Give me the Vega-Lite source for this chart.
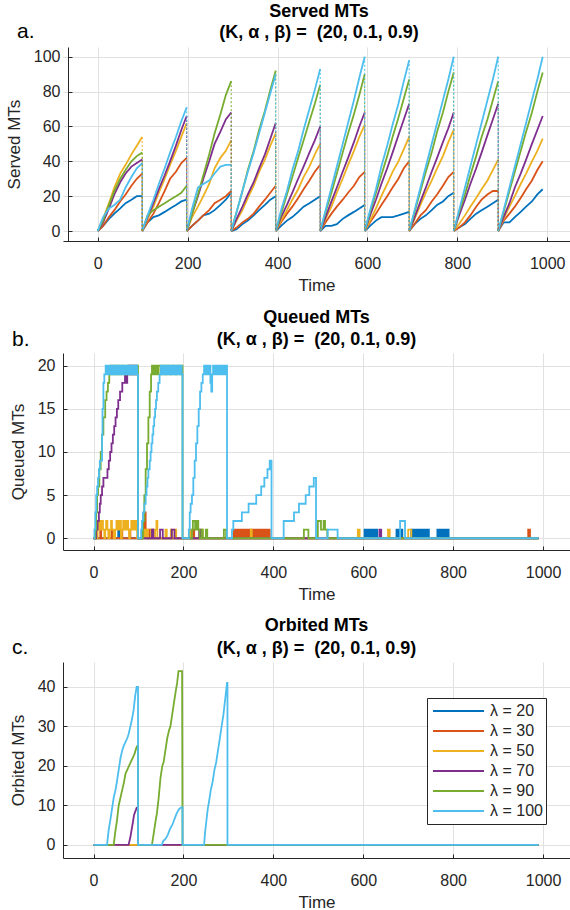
{
"$schema": "https://vega.github.io/schema/vega-lite/v6.json",
"autosize": "none",
"padding": {"left": 63, "top": 47, "right": 507, "bottom": 863},
"background": "white",
"config": {
 "font": "Liberation Sans",
 "view": {"stroke": null},
 "axis": {"domainColor": "#262626", "domainWidth": 1, "tickColor": "#262626", "tickSize": -4, "ticks": true, "labelFontSize": 16, "labelColor": "#262626", "labelFont": "Liberation Sans", "titleFont": "Liberation Sans", "titleFontSize": 17, "titleFontWeight": "normal", "titleColor": "#262626", "gridColor": "#e1e1e1", "grid": true, "labelFlush": false, "labelOverlap": false},
 "axisX": {"labelPadding": 18, "titlePadding": 6},
 "axisY": {"labelPadding": 12, "titlePadding": 10}
},
"datasets": {
"served": [
{"s":20,"g":1,"t":0,"v":0},{"s":20,"g":1,"t":12,"v":3},{"s":20,"g":1,"t":25,"v":7},{"s":20,"g":1,"t":37,"v":10},{"s":20,"g":1,"t":50,"v":13},{"s":20,"g":1,"t":62,"v":16},{"s":20,"g":1,"t":75,"v":18},{"s":20,"g":1,"t":87,"v":20},{"s":20,"g":1,"t":99,"v":20},
{"s":20,"g":2,"t":99,"v":0},{"s":20,"g":2,"t":111,"v":5},{"s":20,"g":2,"t":124,"v":8},{"s":20,"g":2,"t":136,"v":9},{"s":20,"g":2,"t":149,"v":11},{"s":20,"g":2,"t":161,"v":13},{"s":20,"g":2,"t":174,"v":15},{"s":20,"g":2,"t":186,"v":17},{"s":20,"g":2,"t":198,"v":18},
{"s":20,"g":3,"t":198,"v":0},{"s":20,"g":3,"t":210,"v":3},{"s":20,"g":3,"t":223,"v":6},{"s":20,"g":3,"t":235,"v":9},{"s":20,"g":3,"t":248,"v":10},{"s":20,"g":3,"t":260,"v":12},{"s":20,"g":3,"t":273,"v":15},{"s":20,"g":3,"t":285,"v":18},{"s":20,"g":3,"t":297,"v":22},
{"s":20,"g":4,"t":297,"v":0},{"s":20,"g":4,"t":309,"v":1},{"s":20,"g":4,"t":322,"v":4},{"s":20,"g":4,"t":334,"v":6},{"s":20,"g":4,"t":347,"v":9},{"s":20,"g":4,"t":359,"v":12},{"s":20,"g":4,"t":372,"v":15},{"s":20,"g":4,"t":384,"v":18},{"s":20,"g":4,"t":396,"v":20},
{"s":20,"g":5,"t":396,"v":0},{"s":20,"g":5,"t":408,"v":3},{"s":20,"g":5,"t":421,"v":6},{"s":20,"g":5,"t":433,"v":8},{"s":20,"g":5,"t":446,"v":11},{"s":20,"g":5,"t":458,"v":14},{"s":20,"g":5,"t":471,"v":16},{"s":20,"g":5,"t":483,"v":18},{"s":20,"g":5,"t":495,"v":20},
{"s":20,"g":6,"t":495,"v":0},{"s":20,"g":6,"t":507,"v":3},{"s":20,"g":6,"t":520,"v":3},{"s":20,"g":6,"t":532,"v":4},{"s":20,"g":6,"t":545,"v":7},{"s":20,"g":6,"t":557,"v":9},{"s":20,"g":6,"t":570,"v":11},{"s":20,"g":6,"t":582,"v":13},{"s":20,"g":6,"t":594,"v":15},
{"s":20,"g":7,"t":594,"v":0},{"s":20,"g":7,"t":606,"v":3},{"s":20,"g":7,"t":619,"v":6},{"s":20,"g":7,"t":631,"v":8},{"s":20,"g":7,"t":644,"v":8},{"s":20,"g":7,"t":656,"v":8},{"s":20,"g":7,"t":669,"v":9},{"s":20,"g":7,"t":681,"v":10},{"s":20,"g":7,"t":693,"v":11},
{"s":20,"g":8,"t":693,"v":0},{"s":20,"g":8,"t":705,"v":4},{"s":20,"g":8,"t":718,"v":7},{"s":20,"g":8,"t":730,"v":9},{"s":20,"g":8,"t":743,"v":12},{"s":20,"g":8,"t":755,"v":15},{"s":20,"g":8,"t":768,"v":17},{"s":20,"g":8,"t":780,"v":20},{"s":20,"g":8,"t":792,"v":22},
{"s":20,"g":9,"t":792,"v":0},{"s":20,"g":9,"t":804,"v":2},{"s":20,"g":9,"t":817,"v":4},{"s":20,"g":9,"t":829,"v":7},{"s":20,"g":9,"t":842,"v":10},{"s":20,"g":9,"t":854,"v":12},{"s":20,"g":9,"t":867,"v":14},{"s":20,"g":9,"t":879,"v":16},{"s":20,"g":9,"t":891,"v":18},
{"s":20,"g":10,"t":891,"v":0},{"s":20,"g":10,"t":903,"v":5},{"s":20,"g":10,"t":916,"v":5},{"s":20,"g":10,"t":928,"v":8},{"s":20,"g":10,"t":941,"v":11},{"s":20,"g":10,"t":953,"v":14},{"s":20,"g":10,"t":966,"v":17},{"s":20,"g":10,"t":978,"v":21},{"s":20,"g":10,"t":990,"v":24},
{"s":30,"g":1,"t":0,"v":0},{"s":30,"g":1,"t":12,"v":3},{"s":30,"g":1,"t":25,"v":8},{"s":30,"g":1,"t":37,"v":12},{"s":30,"g":1,"t":50,"v":17},{"s":30,"g":1,"t":62,"v":21},{"s":30,"g":1,"t":75,"v":26},{"s":30,"g":1,"t":87,"v":30},{"s":30,"g":1,"t":99,"v":33},
{"s":30,"g":2,"t":99,"v":0},{"s":30,"g":2,"t":111,"v":5},{"s":30,"g":2,"t":124,"v":10},{"s":30,"g":2,"t":136,"v":16},{"s":30,"g":2,"t":149,"v":23},{"s":30,"g":2,"t":161,"v":30},{"s":30,"g":2,"t":174,"v":34},{"s":30,"g":2,"t":186,"v":39},{"s":30,"g":2,"t":198,"v":42},
{"s":30,"g":3,"t":198,"v":0},{"s":30,"g":3,"t":210,"v":3},{"s":30,"g":3,"t":223,"v":6},{"s":30,"g":3,"t":235,"v":9},{"s":30,"g":3,"t":248,"v":12},{"s":30,"g":3,"t":260,"v":16},{"s":30,"g":3,"t":273,"v":18},{"s":30,"g":3,"t":285,"v":20},{"s":30,"g":3,"t":297,"v":23},
{"s":30,"g":4,"t":297,"v":0},{"s":30,"g":4,"t":309,"v":2},{"s":30,"g":4,"t":322,"v":5},{"s":30,"g":4,"t":334,"v":7},{"s":30,"g":4,"t":347,"v":10},{"s":30,"g":4,"t":359,"v":14},{"s":30,"g":4,"t":372,"v":18},{"s":30,"g":4,"t":384,"v":22},{"s":30,"g":4,"t":396,"v":26},
{"s":30,"g":5,"t":396,"v":0},{"s":30,"g":5,"t":408,"v":5},{"s":30,"g":5,"t":421,"v":10},{"s":30,"g":5,"t":433,"v":14},{"s":30,"g":5,"t":446,"v":19},{"s":30,"g":5,"t":458,"v":24},{"s":30,"g":5,"t":471,"v":29},{"s":30,"g":5,"t":483,"v":34},{"s":30,"g":5,"t":495,"v":38},
{"s":30,"g":6,"t":495,"v":0},{"s":30,"g":6,"t":507,"v":5},{"s":30,"g":6,"t":520,"v":10},{"s":30,"g":6,"t":532,"v":14},{"s":30,"g":6,"t":545,"v":18},{"s":30,"g":6,"t":557,"v":22},{"s":30,"g":6,"t":570,"v":26},{"s":30,"g":6,"t":582,"v":31},{"s":30,"g":6,"t":594,"v":34},
{"s":30,"g":7,"t":594,"v":0},{"s":30,"g":7,"t":606,"v":5},{"s":30,"g":7,"t":619,"v":10},{"s":30,"g":7,"t":631,"v":15},{"s":30,"g":7,"t":644,"v":20},{"s":30,"g":7,"t":656,"v":25},{"s":30,"g":7,"t":669,"v":30},{"s":30,"g":7,"t":681,"v":36},{"s":30,"g":7,"t":693,"v":40},
{"s":30,"g":8,"t":693,"v":0},{"s":30,"g":8,"t":705,"v":4},{"s":30,"g":8,"t":718,"v":9},{"s":30,"g":8,"t":730,"v":12},{"s":30,"g":8,"t":743,"v":17},{"s":30,"g":8,"t":755,"v":21},{"s":30,"g":8,"t":768,"v":26},{"s":30,"g":8,"t":780,"v":31},{"s":30,"g":8,"t":792,"v":34},
{"s":30,"g":9,"t":792,"v":0},{"s":30,"g":9,"t":804,"v":2},{"s":30,"g":9,"t":817,"v":5},{"s":30,"g":9,"t":829,"v":9},{"s":30,"g":9,"t":842,"v":14},{"s":30,"g":9,"t":854,"v":18},{"s":30,"g":9,"t":867,"v":21},{"s":30,"g":9,"t":879,"v":23},{"s":30,"g":9,"t":891,"v":23},
{"s":30,"g":10,"t":891,"v":0},{"s":30,"g":10,"t":903,"v":6},{"s":30,"g":10,"t":916,"v":10},{"s":30,"g":10,"t":928,"v":14},{"s":30,"g":10,"t":941,"v":19},{"s":30,"g":10,"t":953,"v":24},{"s":30,"g":10,"t":966,"v":29},{"s":30,"g":10,"t":978,"v":35},{"s":30,"g":10,"t":990,"v":40},
{"s":50,"g":1,"t":0,"v":0},{"s":50,"g":1,"t":12,"v":7},{"s":50,"g":1,"t":25,"v":16},{"s":50,"g":1,"t":37,"v":25},{"s":50,"g":1,"t":50,"v":33},{"s":50,"g":1,"t":62,"v":38},{"s":50,"g":1,"t":75,"v":44},{"s":50,"g":1,"t":87,"v":49},{"s":50,"g":1,"t":99,"v":54},
{"s":50,"g":2,"t":99,"v":0},{"s":50,"g":2,"t":111,"v":7},{"s":50,"g":2,"t":124,"v":14},{"s":50,"g":2,"t":136,"v":22},{"s":50,"g":2,"t":149,"v":30},{"s":50,"g":2,"t":161,"v":38},{"s":50,"g":2,"t":174,"v":46},{"s":50,"g":2,"t":186,"v":54},{"s":50,"g":2,"t":198,"v":62},
{"s":50,"g":3,"t":198,"v":0},{"s":50,"g":3,"t":210,"v":8},{"s":50,"g":3,"t":223,"v":14},{"s":50,"g":3,"t":235,"v":20},{"s":50,"g":3,"t":248,"v":27},{"s":50,"g":3,"t":260,"v":36},{"s":50,"g":3,"t":273,"v":42},{"s":50,"g":3,"t":285,"v":46},{"s":50,"g":3,"t":297,"v":52},
{"s":50,"g":4,"t":297,"v":0},{"s":50,"g":4,"t":309,"v":6},{"s":50,"g":4,"t":322,"v":12},{"s":50,"g":4,"t":334,"v":19},{"s":50,"g":4,"t":347,"v":26},{"s":50,"g":4,"t":359,"v":34},{"s":50,"g":4,"t":372,"v":41},{"s":50,"g":4,"t":384,"v":49},{"s":50,"g":4,"t":396,"v":56},
{"s":50,"g":5,"t":396,"v":0},{"s":50,"g":5,"t":408,"v":6},{"s":50,"g":5,"t":421,"v":12},{"s":50,"g":5,"t":433,"v":18},{"s":50,"g":5,"t":446,"v":24},{"s":50,"g":5,"t":458,"v":31},{"s":50,"g":5,"t":471,"v":37},{"s":50,"g":5,"t":483,"v":44},{"s":50,"g":5,"t":495,"v":50},
{"s":50,"g":6,"t":495,"v":0},{"s":50,"g":6,"t":507,"v":7},{"s":50,"g":6,"t":520,"v":14},{"s":50,"g":6,"t":532,"v":22},{"s":50,"g":6,"t":545,"v":30},{"s":50,"g":6,"t":557,"v":38},{"s":50,"g":6,"t":570,"v":46},{"s":50,"g":6,"t":582,"v":54},{"s":50,"g":6,"t":594,"v":61},
{"s":50,"g":7,"t":594,"v":0},{"s":50,"g":7,"t":606,"v":6},{"s":50,"g":7,"t":619,"v":13},{"s":50,"g":7,"t":631,"v":20},{"s":50,"g":7,"t":644,"v":27},{"s":50,"g":7,"t":656,"v":34},{"s":50,"g":7,"t":669,"v":40},{"s":50,"g":7,"t":681,"v":47},{"s":50,"g":7,"t":693,"v":54},
{"s":50,"g":8,"t":693,"v":0},{"s":50,"g":8,"t":705,"v":7},{"s":50,"g":8,"t":718,"v":15},{"s":50,"g":8,"t":730,"v":22},{"s":50,"g":8,"t":743,"v":29},{"s":50,"g":8,"t":755,"v":36},{"s":50,"g":8,"t":768,"v":43},{"s":50,"g":8,"t":780,"v":51},{"s":50,"g":8,"t":792,"v":58},
{"s":50,"g":9,"t":792,"v":0},{"s":50,"g":9,"t":804,"v":4},{"s":50,"g":9,"t":817,"v":9},{"s":50,"g":9,"t":829,"v":14},{"s":50,"g":9,"t":842,"v":19},{"s":50,"g":9,"t":854,"v":24},{"s":50,"g":9,"t":867,"v":29},{"s":50,"g":9,"t":879,"v":35},{"s":50,"g":9,"t":891,"v":41},
{"s":50,"g":10,"t":891,"v":0},{"s":50,"g":10,"t":903,"v":7},{"s":50,"g":10,"t":916,"v":14},{"s":50,"g":10,"t":928,"v":20},{"s":50,"g":10,"t":941,"v":27},{"s":50,"g":10,"t":953,"v":33},{"s":50,"g":10,"t":966,"v":40},{"s":50,"g":10,"t":978,"v":46},{"s":50,"g":10,"t":990,"v":53},
{"s":70,"g":1,"t":0,"v":0},{"s":70,"g":1,"t":12,"v":5},{"s":70,"g":1,"t":25,"v":13},{"s":70,"g":1,"t":37,"v":21},{"s":70,"g":1,"t":50,"v":28},{"s":70,"g":1,"t":62,"v":33},{"s":70,"g":1,"t":75,"v":37},{"s":70,"g":1,"t":87,"v":39},{"s":70,"g":1,"t":99,"v":41},
{"s":70,"g":2,"t":99,"v":0},{"s":70,"g":2,"t":111,"v":8},{"s":70,"g":2,"t":124,"v":16},{"s":70,"g":2,"t":136,"v":24},{"s":70,"g":2,"t":149,"v":32},{"s":70,"g":2,"t":161,"v":40},{"s":70,"g":2,"t":174,"v":49},{"s":70,"g":2,"t":186,"v":58},{"s":70,"g":2,"t":198,"v":66},
{"s":70,"g":3,"t":198,"v":0},{"s":70,"g":3,"t":210,"v":10},{"s":70,"g":3,"t":223,"v":20},{"s":70,"g":3,"t":235,"v":30},{"s":70,"g":3,"t":248,"v":40},{"s":70,"g":3,"t":260,"v":50},{"s":70,"g":3,"t":273,"v":57},{"s":70,"g":3,"t":285,"v":64},{"s":70,"g":3,"t":297,"v":68},
{"s":70,"g":4,"t":297,"v":0},{"s":70,"g":4,"t":309,"v":7},{"s":70,"g":4,"t":322,"v":14},{"s":70,"g":4,"t":334,"v":21},{"s":70,"g":4,"t":347,"v":28},{"s":70,"g":4,"t":359,"v":36},{"s":70,"g":4,"t":372,"v":44},{"s":70,"g":4,"t":384,"v":53},{"s":70,"g":4,"t":396,"v":62},
{"s":70,"g":5,"t":396,"v":0},{"s":70,"g":5,"t":408,"v":8},{"s":70,"g":5,"t":421,"v":15},{"s":70,"g":5,"t":433,"v":22},{"s":70,"g":5,"t":446,"v":30},{"s":70,"g":5,"t":458,"v":37},{"s":70,"g":5,"t":471,"v":45},{"s":70,"g":5,"t":483,"v":52},{"s":70,"g":5,"t":495,"v":60},
{"s":70,"g":6,"t":495,"v":0},{"s":70,"g":6,"t":507,"v":8},{"s":70,"g":6,"t":520,"v":17},{"s":70,"g":6,"t":532,"v":25},{"s":70,"g":6,"t":545,"v":34},{"s":70,"g":6,"t":557,"v":42},{"s":70,"g":6,"t":570,"v":51},{"s":70,"g":6,"t":582,"v":60},{"s":70,"g":6,"t":594,"v":68},
{"s":70,"g":7,"t":594,"v":0},{"s":70,"g":7,"t":606,"v":9},{"s":70,"g":7,"t":619,"v":18},{"s":70,"g":7,"t":631,"v":27},{"s":70,"g":7,"t":644,"v":36},{"s":70,"g":7,"t":656,"v":45},{"s":70,"g":7,"t":669,"v":55},{"s":70,"g":7,"t":681,"v":64},{"s":70,"g":7,"t":693,"v":73},
{"s":70,"g":8,"t":693,"v":0},{"s":70,"g":8,"t":705,"v":8},{"s":70,"g":8,"t":718,"v":17},{"s":70,"g":8,"t":730,"v":25},{"s":70,"g":8,"t":743,"v":34},{"s":70,"g":8,"t":755,"v":42},{"s":70,"g":8,"t":768,"v":51},{"s":70,"g":8,"t":780,"v":59},{"s":70,"g":8,"t":792,"v":68},
{"s":70,"g":9,"t":792,"v":0},{"s":70,"g":9,"t":804,"v":9},{"s":70,"g":9,"t":817,"v":18},{"s":70,"g":9,"t":829,"v":27},{"s":70,"g":9,"t":842,"v":36},{"s":70,"g":9,"t":854,"v":45},{"s":70,"g":9,"t":867,"v":55},{"s":70,"g":9,"t":879,"v":64},{"s":70,"g":9,"t":891,"v":73},
{"s":70,"g":10,"t":891,"v":0},{"s":70,"g":10,"t":903,"v":8},{"s":70,"g":10,"t":916,"v":16},{"s":70,"g":10,"t":928,"v":25},{"s":70,"g":10,"t":941,"v":33},{"s":70,"g":10,"t":953,"v":41},{"s":70,"g":10,"t":966,"v":50},{"s":70,"g":10,"t":978,"v":58},{"s":70,"g":10,"t":990,"v":66},
{"s":90,"g":1,"t":0,"v":0},{"s":90,"g":1,"t":12,"v":6},{"s":90,"g":1,"t":25,"v":15},{"s":90,"g":1,"t":37,"v":23},{"s":90,"g":1,"t":50,"v":30},{"s":90,"g":1,"t":62,"v":35},{"s":90,"g":1,"t":75,"v":40},{"s":90,"g":1,"t":87,"v":43},{"s":90,"g":1,"t":99,"v":45},
{"s":90,"g":2,"t":99,"v":0},{"s":90,"g":2,"t":111,"v":9},{"s":90,"g":2,"t":124,"v":12},{"s":90,"g":2,"t":136,"v":14},{"s":90,"g":2,"t":149,"v":16},{"s":90,"g":2,"t":161,"v":18},{"s":90,"g":2,"t":174,"v":20},{"s":90,"g":2,"t":186,"v":22},{"s":90,"g":2,"t":198,"v":26},
{"s":90,"g":3,"t":198,"v":0},{"s":90,"g":3,"t":210,"v":10},{"s":90,"g":3,"t":223,"v":21},{"s":90,"g":3,"t":235,"v":32},{"s":90,"g":3,"t":248,"v":44},{"s":90,"g":3,"t":260,"v":56},{"s":90,"g":3,"t":273,"v":67},{"s":90,"g":3,"t":285,"v":78},{"s":90,"g":3,"t":297,"v":86},
{"s":90,"g":4,"t":297,"v":0},{"s":90,"g":4,"t":309,"v":11},{"s":90,"g":4,"t":322,"v":23},{"s":90,"g":4,"t":334,"v":35},{"s":90,"g":4,"t":347,"v":46},{"s":90,"g":4,"t":359,"v":58},{"s":90,"g":4,"t":372,"v":69},{"s":90,"g":4,"t":384,"v":81},{"s":90,"g":4,"t":396,"v":92},
{"s":90,"g":5,"t":396,"v":0},{"s":90,"g":5,"t":408,"v":10},{"s":90,"g":5,"t":421,"v":21},{"s":90,"g":5,"t":433,"v":31},{"s":90,"g":5,"t":446,"v":42},{"s":90,"g":5,"t":458,"v":52},{"s":90,"g":5,"t":471,"v":63},{"s":90,"g":5,"t":483,"v":73},{"s":90,"g":5,"t":495,"v":84},
{"s":90,"g":6,"t":495,"v":0},{"s":90,"g":6,"t":507,"v":11},{"s":90,"g":6,"t":520,"v":22},{"s":90,"g":6,"t":532,"v":33},{"s":90,"g":6,"t":545,"v":45},{"s":90,"g":6,"t":557,"v":56},{"s":90,"g":6,"t":570,"v":67},{"s":90,"g":6,"t":582,"v":78},{"s":90,"g":6,"t":594,"v":90},
{"s":90,"g":7,"t":594,"v":0},{"s":90,"g":7,"t":606,"v":11},{"s":90,"g":7,"t":619,"v":22},{"s":90,"g":7,"t":631,"v":32},{"s":90,"g":7,"t":644,"v":43},{"s":90,"g":7,"t":656,"v":54},{"s":90,"g":7,"t":669,"v":65},{"s":90,"g":7,"t":681,"v":76},{"s":90,"g":7,"t":693,"v":87},
{"s":90,"g":8,"t":693,"v":0},{"s":90,"g":8,"t":705,"v":11},{"s":90,"g":8,"t":718,"v":23},{"s":90,"g":8,"t":730,"v":34},{"s":90,"g":8,"t":743,"v":45},{"s":90,"g":8,"t":755,"v":57},{"s":90,"g":8,"t":768,"v":68},{"s":90,"g":8,"t":780,"v":80},{"s":90,"g":8,"t":792,"v":91},
{"s":90,"g":9,"t":792,"v":0},{"s":90,"g":9,"t":804,"v":11},{"s":90,"g":9,"t":817,"v":21},{"s":90,"g":9,"t":829,"v":32},{"s":90,"g":9,"t":842,"v":43},{"s":90,"g":9,"t":854,"v":54},{"s":90,"g":9,"t":867,"v":64},{"s":90,"g":9,"t":879,"v":75},{"s":90,"g":9,"t":891,"v":86},
{"s":90,"g":10,"t":891,"v":0},{"s":90,"g":10,"t":903,"v":11},{"s":90,"g":10,"t":916,"v":23},{"s":90,"g":10,"t":928,"v":34},{"s":90,"g":10,"t":941,"v":46},{"s":90,"g":10,"t":953,"v":57},{"s":90,"g":10,"t":966,"v":68},{"s":90,"g":10,"t":978,"v":80},{"s":90,"g":10,"t":990,"v":91},
{"s":100,"g":1,"t":0,"v":0},{"s":100,"g":1,"t":12,"v":8},{"s":100,"g":1,"t":25,"v":13},{"s":100,"g":1,"t":37,"v":15},{"s":100,"g":1,"t":50,"v":18},{"s":100,"g":1,"t":62,"v":25},{"s":100,"g":1,"t":75,"v":31},{"s":100,"g":1,"t":87,"v":36},{"s":100,"g":1,"t":99,"v":39},
{"s":100,"g":2,"t":99,"v":0},{"s":100,"g":2,"t":111,"v":9},{"s":100,"g":2,"t":124,"v":18},{"s":100,"g":2,"t":136,"v":27},{"s":100,"g":2,"t":149,"v":36},{"s":100,"g":2,"t":161,"v":45},{"s":100,"g":2,"t":174,"v":54},{"s":100,"g":2,"t":186,"v":63},{"s":100,"g":2,"t":198,"v":71},
{"s":100,"g":3,"t":198,"v":0},{"s":100,"g":3,"t":210,"v":13},{"s":100,"g":3,"t":223,"v":25},{"s":100,"g":3,"t":235,"v":27},{"s":100,"g":3,"t":248,"v":29},{"s":100,"g":3,"t":260,"v":33},{"s":100,"g":3,"t":273,"v":37},{"s":100,"g":3,"t":285,"v":38},{"s":100,"g":3,"t":297,"v":38},
{"s":100,"g":4,"t":297,"v":0},{"s":100,"g":4,"t":309,"v":11},{"s":100,"g":4,"t":322,"v":23},{"s":100,"g":4,"t":334,"v":34},{"s":100,"g":4,"t":347,"v":45},{"s":100,"g":4,"t":359,"v":56},{"s":100,"g":4,"t":372,"v":68},{"s":100,"g":4,"t":384,"v":79},{"s":100,"g":4,"t":396,"v":90},
{"s":100,"g":5,"t":396,"v":0},{"s":100,"g":5,"t":408,"v":12},{"s":100,"g":5,"t":421,"v":23},{"s":100,"g":5,"t":433,"v":35},{"s":100,"g":5,"t":446,"v":46},{"s":100,"g":5,"t":458,"v":58},{"s":100,"g":5,"t":471,"v":70},{"s":100,"g":5,"t":483,"v":81},{"s":100,"g":5,"t":495,"v":93},
{"s":100,"g":6,"t":495,"v":0},{"s":100,"g":6,"t":507,"v":12},{"s":100,"g":6,"t":520,"v":25},{"s":100,"g":6,"t":532,"v":37},{"s":100,"g":6,"t":545,"v":50},{"s":100,"g":6,"t":557,"v":62},{"s":100,"g":6,"t":570,"v":75},{"s":100,"g":6,"t":582,"v":88},{"s":100,"g":6,"t":594,"v":100},
{"s":100,"g":7,"t":594,"v":0},{"s":100,"g":7,"t":606,"v":12},{"s":100,"g":7,"t":619,"v":24},{"s":100,"g":7,"t":631,"v":37},{"s":100,"g":7,"t":644,"v":49},{"s":100,"g":7,"t":656,"v":61},{"s":100,"g":7,"t":669,"v":73},{"s":100,"g":7,"t":681,"v":86},{"s":100,"g":7,"t":693,"v":98},
{"s":100,"g":8,"t":693,"v":0},{"s":100,"g":8,"t":705,"v":12},{"s":100,"g":8,"t":718,"v":25},{"s":100,"g":8,"t":730,"v":37},{"s":100,"g":8,"t":743,"v":50},{"s":100,"g":8,"t":755,"v":62},{"s":100,"g":8,"t":768,"v":75},{"s":100,"g":8,"t":780,"v":87},{"s":100,"g":8,"t":792,"v":100},
{"s":100,"g":9,"t":792,"v":0},{"s":100,"g":9,"t":804,"v":12},{"s":100,"g":9,"t":817,"v":25},{"s":100,"g":9,"t":829,"v":37},{"s":100,"g":9,"t":842,"v":50},{"s":100,"g":9,"t":854,"v":62},{"s":100,"g":9,"t":867,"v":75},{"s":100,"g":9,"t":879,"v":87},{"s":100,"g":9,"t":891,"v":100},
{"s":100,"g":10,"t":891,"v":0},{"s":100,"g":10,"t":903,"v":12},{"s":100,"g":10,"t":916,"v":25},{"s":100,"g":10,"t":928,"v":37},{"s":100,"g":10,"t":941,"v":50},{"s":100,"g":10,"t":953,"v":62},{"s":100,"g":10,"t":966,"v":75},{"s":100,"g":10,"t":978,"v":87},{"s":100,"g":10,"t":990,"v":100}
],
"queued": [
{"s":20,"t":0,"v":0},{"s":20,"t":55,"v":1},{"s":20,"t":57,"v":0},{"s":20,"t":603,"v":1},{"s":20,"t":605,"v":0},{"s":20,"t":608,"v":1},{"s":20,"t":610,"v":0},{"s":20,"t":613,"v":1},{"s":20,"t":615,"v":0},{"s":20,"t":618,"v":1},{"s":20,"t":620,"v":0},{"s":20,"t":624,"v":1},{"s":20,"t":626,"v":0},{"s":20,"t":629,"v":1},{"s":20,"t":631,"v":0},{"s":20,"t":674,"v":1},{"s":20,"t":676,"v":0},{"s":20,"t":680,"v":1},{"s":20,"t":682,"v":0},{"s":20,"t":685,"v":1},{"s":20,"t":687,"v":0},{"s":20,"t":707,"v":1},{"s":20,"t":709,"v":0},{"s":20,"t":712,"v":1},{"s":20,"t":714,"v":0},{"s":20,"t":717,"v":1},{"s":20,"t":719,"v":0},{"s":20,"t":722,"v":1},{"s":20,"t":724,"v":0},{"s":20,"t":727,"v":1},{"s":20,"t":729,"v":0},{"s":20,"t":731,"v":1},{"s":20,"t":735,"v":0},{"s":20,"t":737,"v":1},{"s":20,"t":741,"v":0},{"s":20,"t":743,"v":1},{"s":20,"t":746,"v":0},{"s":20,"t":765,"v":1},{"s":20,"t":768,"v":0},{"s":20,"t":770,"v":1},{"s":20,"t":774,"v":0},{"s":20,"t":776,"v":1},{"s":20,"t":780,"v":0},{"s":20,"t":782,"v":1},{"s":20,"t":786,"v":0},{"s":20,"t":788,"v":1},{"s":20,"t":790,"v":0},{"s":20,"t":990,"v":0},
{"s":30,"t":0,"v":0},{"s":30,"t":15,"v":1},{"s":30,"t":17,"v":0},{"s":30,"t":40,"v":1},{"s":30,"t":42,"v":0},{"s":30,"t":62,"v":1},{"s":30,"t":64,"v":0},{"s":30,"t":80,"v":1},{"s":30,"t":82,"v":0},{"s":30,"t":108,"v":1},{"s":30,"t":112,"v":2},{"s":30,"t":114,"v":3},{"s":30,"t":116,"v":1},{"s":30,"t":119,"v":0},{"s":30,"t":124,"v":1},{"s":30,"t":126,"v":0},{"s":30,"t":131,"v":1},{"s":30,"t":133,"v":0},{"s":30,"t":222,"v":1},{"s":30,"t":224,"v":0},{"s":30,"t":312,"v":1},{"s":30,"t":314,"v":0},{"s":30,"t":317,"v":1},{"s":30,"t":319,"v":0},{"s":30,"t":322,"v":1},{"s":30,"t":324,"v":0},{"s":30,"t":327,"v":1},{"s":30,"t":329,"v":0},{"s":30,"t":332,"v":1},{"s":30,"t":334,"v":0},{"s":30,"t":337,"v":1},{"s":30,"t":339,"v":0},{"s":30,"t":343,"v":1},{"s":30,"t":345,"v":0},{"s":30,"t":348,"v":1},{"s":30,"t":350,"v":0},{"s":30,"t":353,"v":1},{"s":30,"t":355,"v":0},{"s":30,"t":358,"v":1},{"s":30,"t":360,"v":0},{"s":30,"t":364,"v":1},{"s":30,"t":366,"v":0},{"s":30,"t":369,"v":1},{"s":30,"t":371,"v":0},{"s":30,"t":374,"v":1},{"s":30,"t":376,"v":0},{"s":30,"t":380,"v":1},{"s":30,"t":382,"v":0},{"s":30,"t":385,"v":1},{"s":30,"t":387,"v":0},{"s":30,"t":390,"v":1},{"s":30,"t":392,"v":0},{"s":30,"t":967,"v":1},{"s":30,"t":971,"v":0},{"s":30,"t":990,"v":0},
{"s":50,"t":0,"v":0},{"s":50,"t":9,"v":1},{"s":50,"t":12,"v":2},{"s":50,"t":16,"v":1},{"s":50,"t":18,"v":2},{"s":50,"t":21,"v":1},{"s":50,"t":24,"v":0},{"s":50,"t":26,"v":1},{"s":50,"t":28,"v":2},{"s":50,"t":31,"v":1},{"s":50,"t":33,"v":0},{"s":50,"t":36,"v":1},{"s":50,"t":39,"v":2},{"s":50,"t":41,"v":1},{"s":50,"t":45,"v":0},{"s":50,"t":48,"v":1},{"s":50,"t":51,"v":2},{"s":50,"t":55,"v":1},{"s":50,"t":58,"v":2},{"s":50,"t":61,"v":0},{"s":50,"t":63,"v":1},{"s":50,"t":66,"v":2},{"s":50,"t":70,"v":1},{"s":50,"t":73,"v":2},{"s":50,"t":77,"v":1},{"s":50,"t":79,"v":0},{"s":50,"t":81,"v":1},{"s":50,"t":84,"v":2},{"s":50,"t":88,"v":1},{"s":50,"t":91,"v":2},{"s":50,"t":95,"v":1},{"s":50,"t":97,"v":0},{"s":50,"t":112,"v":1},{"s":50,"t":115,"v":0},{"s":50,"t":118,"v":1},{"s":50,"t":121,"v":0},{"s":50,"t":128,"v":1},{"s":50,"t":130,"v":0},{"s":50,"t":137,"v":1},{"s":50,"t":140,"v":2},{"s":50,"t":142,"v":0},{"s":50,"t":160,"v":1},{"s":50,"t":163,"v":0},{"s":50,"t":172,"v":1},{"s":50,"t":175,"v":0},{"s":50,"t":182,"v":1},{"s":50,"t":184,"v":0},{"s":50,"t":214,"v":1},{"s":50,"t":216,"v":0},{"s":50,"t":240,"v":1},{"s":50,"t":243,"v":0},{"s":50,"t":350,"v":1},{"s":50,"t":352,"v":0},{"s":50,"t":588,"v":1},{"s":50,"t":592,"v":0},{"s":50,"t":655,"v":1},{"s":50,"t":659,"v":0},{"s":50,"t":700,"v":1},{"s":50,"t":707,"v":0},{"s":50,"t":990,"v":0},
{"s":70,"t":0,"v":0},{"s":70,"t":6,"v":1},{"s":70,"t":9,"v":2},{"s":70,"t":12,"v":3},{"s":70,"t":14,"v":4},{"s":70,"t":16,"v":5},{"s":70,"t":19,"v":6},{"s":70,"t":22,"v":7},{"s":70,"t":29,"v":7},{"s":70,"t":31,"v":8},{"s":70,"t":34,"v":9},{"s":70,"t":37,"v":10},{"s":70,"t":40,"v":11},{"s":70,"t":43,"v":12},{"s":70,"t":46,"v":13},{"s":70,"t":49,"v":14},{"s":70,"t":52,"v":15},{"s":70,"t":55,"v":16},{"s":70,"t":59,"v":17},{"s":70,"t":64,"v":18},{"s":70,"t":70,"v":19},{"s":70,"t":73,"v":18},{"s":70,"t":75,"v":19},{"s":70,"t":79,"v":20},{"s":70,"t":82,"v":19},{"s":70,"t":86,"v":20},{"s":70,"t":89,"v":19},{"s":70,"t":93,"v":20},{"s":70,"t":96,"v":19},{"s":70,"t":99,"v":0},{"s":70,"t":130,"v":1},{"s":70,"t":133,"v":0},{"s":70,"t":148,"v":1},{"s":70,"t":154,"v":0},{"s":70,"t":174,"v":1},{"s":70,"t":180,"v":0},{"s":70,"t":235,"v":1},{"s":70,"t":238,"v":0},{"s":70,"t":636,"v":1},{"s":70,"t":640,"v":0},{"s":70,"t":990,"v":0},
{"s":90,"t":0,"v":0},{"s":90,"t":4,"v":1},{"s":90,"t":6,"v":3},{"s":90,"t":8,"v":5},{"s":90,"t":10,"v":6},{"s":90,"t":13,"v":8},{"s":90,"t":16,"v":10},{"s":90,"t":19,"v":12},{"s":90,"t":22,"v":14},{"s":90,"t":26,"v":16},{"s":90,"t":29,"v":17},{"s":90,"t":32,"v":18},{"s":90,"t":35,"v":19},{"s":90,"t":38,"v":20},{"s":90,"t":41,"v":19},{"s":90,"t":44,"v":20},{"s":90,"t":48,"v":19},{"s":90,"t":52,"v":20},{"s":90,"t":57,"v":19},{"s":90,"t":62,"v":20},{"s":90,"t":68,"v":19},{"s":90,"t":74,"v":20},{"s":90,"t":80,"v":19},{"s":90,"t":86,"v":20},{"s":90,"t":92,"v":19},{"s":90,"t":97,"v":20},{"s":90,"t":99,"v":0},{"s":90,"t":110,"v":2},{"s":90,"t":113,"v":5},{"s":90,"t":116,"v":8},{"s":90,"t":119,"v":11},{"s":90,"t":122,"v":14},{"s":90,"t":125,"v":17},{"s":90,"t":128,"v":19},{"s":90,"t":130,"v":20},{"s":90,"t":133,"v":19},{"s":90,"t":136,"v":20},{"s":90,"t":140,"v":19},{"s":90,"t":144,"v":20},{"s":90,"t":149,"v":19},{"s":90,"t":153,"v":20},{"s":90,"t":158,"v":19},{"s":90,"t":163,"v":20},{"s":90,"t":169,"v":19},{"s":90,"t":174,"v":20},{"s":90,"t":180,"v":19},{"s":90,"t":186,"v":20},{"s":90,"t":192,"v":19},{"s":90,"t":196,"v":20},{"s":90,"t":198,"v":0},{"s":90,"t":219,"v":1},{"s":90,"t":221,"v":2},{"s":90,"t":226,"v":1},{"s":90,"t":229,"v":2},{"s":90,"t":233,"v":1},{"s":90,"t":236,"v":0},{"s":90,"t":241,"v":1},{"s":90,"t":243,"v":0},{"s":90,"t":250,"v":1},{"s":90,"t":253,"v":0},{"s":90,"t":290,"v":1},{"s":90,"t":295,"v":0},{"s":90,"t":468,"v":1},{"s":90,"t":478,"v":0},{"s":90,"t":499,"v":2},{"s":90,"t":506,"v":1},{"s":90,"t":512,"v":2},{"s":90,"t":515,"v":1},{"s":90,"t":520,"v":0},{"s":90,"t":990,"v":0},
{"s":100,"t":0,"v":0},{"s":100,"t":2,"v":1},{"s":100,"t":4,"v":3},{"s":100,"t":6,"v":5},{"s":100,"t":8,"v":6},{"s":100,"t":10,"v":7},{"s":100,"t":12,"v":8},{"s":100,"t":14,"v":9},{"s":100,"t":18,"v":9},{"s":100,"t":19,"v":12},{"s":100,"t":20,"v":15},{"s":100,"t":22,"v":18},{"s":100,"t":24,"v":19},{"s":100,"t":27,"v":20},{"s":100,"t":29,"v":19},{"s":100,"t":30,"v":20},{"s":100,"t":32,"v":19},{"s":100,"t":33,"v":20},{"s":100,"t":35,"v":19},{"s":100,"t":36,"v":20},{"s":100,"t":38,"v":19},{"s":100,"t":39,"v":20},{"s":100,"t":41,"v":19},{"s":100,"t":42,"v":20},{"s":100,"t":45,"v":19},{"s":100,"t":46,"v":20},{"s":100,"t":48,"v":19},{"s":100,"t":49,"v":20},{"s":100,"t":51,"v":19},{"s":100,"t":52,"v":20},{"s":100,"t":55,"v":19},{"s":100,"t":56,"v":20},{"s":100,"t":58,"v":19},{"s":100,"t":59,"v":20},{"s":100,"t":61,"v":19},{"s":100,"t":62,"v":20},{"s":100,"t":64,"v":19},{"s":100,"t":65,"v":20},{"s":100,"t":68,"v":19},{"s":100,"t":69,"v":20},{"s":100,"t":71,"v":19},{"s":100,"t":72,"v":20},{"s":100,"t":74,"v":19},{"s":100,"t":75,"v":20},{"s":100,"t":78,"v":19},{"s":100,"t":79,"v":20},{"s":100,"t":81,"v":19},{"s":100,"t":82,"v":20},{"s":100,"t":84,"v":19},{"s":100,"t":85,"v":20},{"s":100,"t":87,"v":19},{"s":100,"t":88,"v":20},{"s":100,"t":91,"v":19},{"s":100,"t":92,"v":20},{"s":100,"t":94,"v":19},{"s":100,"t":95,"v":20},{"s":100,"t":97,"v":19},{"s":100,"t":99,"v":0},
{"s":100,"t":106,"v":1},{"s":100,"t":108,"v":2},{"s":100,"t":110,"v":3},{"s":100,"t":113,"v":4},{"s":100,"t":116,"v":5},{"s":100,"t":118,"v":6},{"s":100,"t":120,"v":7},{"s":100,"t":122,"v":8},{"s":100,"t":125,"v":9},{"s":100,"t":127,"v":10},{"s":100,"t":129,"v":11},{"s":100,"t":131,"v":12},{"s":100,"t":133,"v":13},{"s":100,"t":135,"v":14},{"s":100,"t":137,"v":15},{"s":100,"t":139,"v":16},{"s":100,"t":141,"v":17},{"s":100,"t":144,"v":18},{"s":100,"t":147,"v":19},{"s":100,"t":150,"v":20},{"s":100,"t":152,"v":19},{"s":100,"t":154,"v":20},{"s":100,"t":157,"v":19},{"s":100,"t":159,"v":20},{"s":100,"t":162,"v":19},{"s":100,"t":164,"v":20},{"s":100,"t":167,"v":19},{"s":100,"t":169,"v":20},{"s":100,"t":172,"v":19},{"s":100,"t":174,"v":20},{"s":100,"t":177,"v":19},{"s":100,"t":179,"v":20},{"s":100,"t":182,"v":19},{"s":100,"t":184,"v":20},{"s":100,"t":187,"v":19},{"s":100,"t":189,"v":20},{"s":100,"t":192,"v":19},{"s":100,"t":194,"v":20},{"s":100,"t":196,"v":19},{"s":100,"t":198,"v":0},
{"s":100,"t":212,"v":1},{"s":100,"t":214,"v":3},{"s":100,"t":216,"v":4},{"s":100,"t":219,"v":5},{"s":100,"t":222,"v":7},{"s":100,"t":225,"v":9},{"s":100,"t":228,"v":11},{"s":100,"t":231,"v":13},{"s":100,"t":234,"v":15},{"s":100,"t":237,"v":17},{"s":100,"t":240,"v":18},{"s":100,"t":243,"v":19},{"s":100,"t":246,"v":20},{"s":100,"t":249,"v":19},{"s":100,"t":250,"v":20},{"s":100,"t":253,"v":19},{"s":100,"t":254,"v":20},{"s":100,"t":257,"v":19},{"s":100,"t":258,"v":20},{"s":100,"t":260,"v":18},{"s":100,"t":262,"v":17},{"s":100,"t":264,"v":19},{"s":100,"t":266,"v":20},{"s":100,"t":269,"v":19},{"s":100,"t":270,"v":20},{"s":100,"t":273,"v":19},{"s":100,"t":274,"v":20},{"s":100,"t":277,"v":19},{"s":100,"t":278,"v":20},{"s":100,"t":281,"v":19},{"s":100,"t":282,"v":20},{"s":100,"t":285,"v":19},{"s":100,"t":286,"v":20},{"s":100,"t":289,"v":19},{"s":100,"t":290,"v":20},{"s":100,"t":293,"v":19},{"s":100,"t":294,"v":20},{"s":100,"t":297,"v":0},
{"s":100,"t":308,"v":1},{"s":100,"t":311,"v":2},{"s":100,"t":330,"v":3},{"s":100,"t":345,"v":4},{"s":100,"t":362,"v":5},{"s":100,"t":373,"v":6},{"s":100,"t":380,"v":7},{"s":100,"t":387,"v":8},{"s":100,"t":392,"v":9},{"s":100,"t":396,"v":0},{"s":100,"t":423,"v":2},{"s":100,"t":446,"v":3},{"s":100,"t":457,"v":4},{"s":100,"t":472,"v":5},{"s":100,"t":480,"v":6},{"s":100,"t":490,"v":7},{"s":100,"t":495,"v":0},{"s":100,"t":521,"v":1},{"s":100,"t":543,"v":0},{"s":100,"t":682,"v":2},{"s":100,"t":693,"v":0},{"s":100,"t":990,"v":0}
],
"orbited": [
{"s":20,"t":0,"v":0},{"s":20,"t":990,"v":0},
{"s":30,"t":0,"v":0},{"s":30,"t":990,"v":0},
{"s":50,"t":0,"v":0},{"s":50,"t":990,"v":0},
{"s":70,"t":0,"v":0},{"s":70,"t":78,"v":0},{"s":70,"t":80,"v":1},{"s":70,"t":82,"v":2},{"s":70,"t":85,"v":4},{"s":70,"t":88,"v":6},{"s":70,"t":90,"v":7.5},{"s":70,"t":93,"v":8.5},{"s":70,"t":96,"v":9.4},{"s":70,"t":99,"v":9.5},{"s":70,"t":99,"v":0},{"s":70,"t":990,"v":0},
{"s":90,"t":0,"v":0},{"s":90,"t":45,"v":0},{"s":90,"t":48,"v":3},{"s":90,"t":52,"v":6},{"s":90,"t":56,"v":10},{"s":90,"t":60,"v":12},{"s":90,"t":64,"v":14},{"s":90,"t":68,"v":16},{"s":90,"t":71,"v":18},{"s":90,"t":75,"v":19},{"s":90,"t":79,"v":20},{"s":90,"t":83,"v":21},{"s":90,"t":87,"v":22},{"s":90,"t":91,"v":23},{"s":90,"t":95,"v":24.5},{"s":90,"t":97,"v":25},{"s":90,"t":99,"v":25},{"s":90,"t":99,"v":0},{"s":90,"t":130,"v":0},{"s":90,"t":134,"v":3},{"s":90,"t":138,"v":6},{"s":90,"t":141,"v":8},{"s":90,"t":145,"v":12},{"s":90,"t":149,"v":17},{"s":90,"t":153,"v":20},{"s":90,"t":156,"v":21},{"s":90,"t":160,"v":24},{"s":90,"t":164,"v":27},{"s":90,"t":168,"v":29},{"s":90,"t":171,"v":30},{"s":90,"t":175,"v":33},{"s":90,"t":179,"v":36},{"s":90,"t":183,"v":39},{"s":90,"t":186,"v":41},{"s":90,"t":189,"v":44},{"s":90,"t":197,"v":44},{"s":90,"t":198,"v":0},{"s":90,"t":990,"v":0},
{"s":100,"t":0,"v":0},{"s":100,"t":30,"v":0},{"s":100,"t":34,"v":4},{"s":100,"t":37,"v":6},{"s":100,"t":41,"v":9},{"s":100,"t":45,"v":12},{"s":100,"t":49,"v":14},{"s":100,"t":52,"v":16},{"s":100,"t":56,"v":19},{"s":100,"t":60,"v":22},{"s":100,"t":64,"v":24},{"s":100,"t":67,"v":25},{"s":100,"t":71,"v":26},{"s":100,"t":75,"v":27},{"s":100,"t":78,"v":28},{"s":100,"t":82,"v":30},{"s":100,"t":85,"v":31.5},{"s":100,"t":89,"v":34},{"s":100,"t":93,"v":38},{"s":100,"t":96,"v":40},{"s":100,"t":99,"v":40},{"s":100,"t":99,"v":0},{"s":100,"t":152,"v":0},{"s":100,"t":155,"v":1},{"s":100,"t":160,"v":1.5},{"s":100,"t":165,"v":2.5},{"s":100,"t":170,"v":4},{"s":100,"t":175,"v":5},{"s":100,"t":180,"v":6.5},{"s":100,"t":185,"v":8},{"s":100,"t":190,"v":9},{"s":100,"t":195,"v":9.5},{"s":100,"t":198,"v":9.5},{"s":100,"t":198,"v":0},{"s":100,"t":246,"v":0},{"s":100,"t":248,"v":3},{"s":100,"t":251,"v":6},{"s":100,"t":254,"v":9},{"s":100,"t":257,"v":11},{"s":100,"t":261,"v":14},{"s":100,"t":265,"v":16},{"s":100,"t":269,"v":19},{"s":100,"t":273,"v":21},{"s":100,"t":277,"v":24},{"s":100,"t":281,"v":27},{"s":100,"t":285,"v":30},{"s":100,"t":289,"v":33},{"s":100,"t":293,"v":37},{"s":100,"t":297,"v":41},{"s":100,"t":298,"v":41},{"s":100,"t":298,"v":0},{"s":100,"t":990,"v":0}
]
},
"bounds": "flush",
"spacing": 112,
"resolve": {"scale": {"color": "independent", "x": "independent", "y": "independent"}},
"vconcat": [
{
 "width": 507, "height": 194,
 "layer": [
  {"data": {"name": "served"},
   "mark": {"type": "line", "strokeWidth": 1.8, "clip": true},
   "encoding": {
    "x": {"field": "t", "type": "quantitative", "scale": {"domain": [-77.2, 1050.7], "nice": false, "zero": false}, "axis": {"title": "Time", "values": [0,200,400,600,800,1000], "format": "d"}},
    "y": {"field": "v", "type": "quantitative", "scale": {"domain": [-5.7, 105.6], "nice": false, "zero": false}, "axis": {"title": "Served MTs", "values": [0,20,40,60,80,100], "offset": -5, "format": "d"}},
    "color": {"field": "s", "type": "nominal", "scale": {"domain": [20,30,50,70,90,100], "range": ["#0072BD","#D95319","#EDB120","#7E2F8E","#77AC30","#4DBEEE"]}, "legend": null},
    "detail": {"field": "g", "type": "nominal"}
   }},
  {"data": {"name": "served"},
   "transform": [{"filter": "datum.v > 0 && datum.t % 99 == 0 && datum.t < 990"}],
   "mark": {"type": "rule", "strokeWidth": 1, "strokeDash": [2,2]},
   "encoding": {
    "x": {"field": "t", "type": "quantitative", "axis": {"title": "Time", "values": [0,200,400,600,800,1000], "format": "d"}},
    "y": {"field": "v", "type": "quantitative", "axis": {"title": "Served MTs", "values": [0,20,40,60,80,100], "offset": -5, "format": "d"}},
    "y2": {"datum": 0},
    "color": {"field": "s", "type": "nominal", "legend": null}
   }},
  {"data": {"values": [{}]}, "mark": {"type": "text", "fontSize": 18, "fontWeight": "bold", "color": "#000000", "align": "center", "baseline": "middle"},
   "encoding": {"x": {"datum": 492.3, "axis": {"title": "Time", "values": [0,200,400,600,800,1000], "format": "d"}}, "y": {"datum": 125.7, "axis": {"title": "Served MTs", "values": [0,20,40,60,80,100], "offset": -5, "format": "d"}}, "text": {"value": "Served MTs"}}},
  {"data": {"values": [{}]}, "mark": {"type": "text", "fontSize": 18, "fontWeight": "bold", "color": "#000000", "align": "center", "baseline": "middle"},
   "encoding": {"x": {"datum": 492.3, "axis": {"title": "Time", "values": [0,200,400,600,800,1000], "format": "d"}}, "y": {"datum": 113.6, "axis": {"title": "Served MTs", "values": [0,20,40,60,80,100], "offset": -5, "format": "d"}}, "text": {"value": "(K, α , β) = \u00a0(20, 0.1, 0.9)"}}},
  {"data": {"values": [{}]}, "mark": {"type": "text", "fontSize": 21, "color": "#000000", "align": "left", "baseline": "middle"},
   "encoding": {"x": {"datum": -179.5, "axis": {"title": "Time", "values": [0,200,400,600,800,1000], "format": "d"}}, "y": {"datum": 114.2, "axis": {"title": "Served MTs", "values": [0,20,40,60,80,100], "offset": -5, "format": "d"}}, "text": {"value": "a."}}}
 ]
},
{
 "width": 507, "height": 197,
 "layer": [
  {"data": {"name": "queued"},
   "mark": {"type": "line", "strokeWidth": 1.8, "interpolate": "step-after", "clip": true},
   "encoding": {
    "x": {"field": "t", "type": "quantitative", "scale": {"domain": [-67.9, 1060], "nice": false, "zero": false}, "axis": {"title": "Time", "values": [0,200,400,600,800,1000], "format": "d"}},
    "y": {"field": "v", "type": "quantitative", "scale": {"domain": [-1.36, 21.47], "nice": false, "zero": false}, "axis": {"title": "Queued MTs", "values": [0,5,10,15,20], "format": "d"}},
    "color": {"field": "s", "type": "nominal", "scale": {"domain": [20,30,50,70,90,100], "range": ["#0072BD","#D95319","#EDB120","#7E2F8E","#77AC30","#4DBEEE"]}, "legend": null}
   }},
  {"data": {"values": [{}]}, "mark": {"type": "text", "fontSize": 18, "fontWeight": "bold", "color": "#000000", "align": "center", "baseline": "middle"},
   "encoding": {"x": {"datum": 496.1}, "y": {"datum": 25.53}, "text": {"value": "Queued MTs"}}},
  {"data": {"values": [{}]}, "mark": {"type": "text", "fontSize": 18, "fontWeight": "bold", "color": "#000000", "align": "center", "baseline": "middle"},
   "encoding": {"x": {"datum": 496.1}, "y": {"datum": 22.98}, "text": {"value": "(K, α , β) = \u00a0(20, 0.1, 0.9)"}}},
  {"data": {"values": [{}]}, "mark": {"type": "text", "fontSize": 21, "color": "#000000", "align": "left", "baseline": "middle"},
   "encoding": {"x": {"datum": -181.4}, "y": {"datum": 22.98}, "text": {"value": "b."}}}
 ]
},
{
 "width": 507, "height": 196,
 "layer": [
  {"data": {"name": "orbited"},
   "mark": {"type": "line", "strokeWidth": 1.8, "clip": true},
   "encoding": {
    "x": {"field": "t", "type": "quantitative", "scale": {"domain": [-67.9, 1060], "nice": false, "zero": false}, "axis": {"title": "Time", "values": [0,200,400,600,800,1000], "format": "d"}},
    "y": {"field": "v", "type": "quantitative", "scale": {"domain": [-3.3, 46.3], "nice": false, "zero": false}, "axis": {"title": "Orbited MTs", "values": [0,10,20,30,40], "format": "d"}},
    "color": {"field": "s", "type": "nominal", "scale": {"domain": [20,30,50,70,90,100], "range": ["#0072BD","#D95319","#EDB120","#7E2F8E","#77AC30","#4DBEEE"]},
     "legend": {"orient": "none", "legendX": 364, "legendY": 36, "title": null, "symbolType": "stroke", "symbolSize": 2601, "symbolStrokeWidth": 2, "labelFontSize": 16, "labelColor": "#262626", "labelFont": "Liberation Sans", "strokeColor": "#262626", "fillColor": "white", "padding": 3, "clipHeight": 20, "labelOffset": 5, "rowPadding": 0, "cornerRadius": 0, "symbolOffset": 2, "labelExpr": "'λ = ' + datum.label"}}
   }},
  {"data": {"values": [{}]}, "mark": {"type": "text", "fontSize": 18, "fontWeight": "bold", "color": "#000000", "align": "center", "baseline": "middle"},
   "encoding": {"x": {"datum": 496.1}, "y": {"datum": 55.3}, "text": {"value": "Orbited MTs"}}},
  {"data": {"values": [{}]}, "mark": {"type": "text", "fontSize": 18, "fontWeight": "bold", "color": "#000000", "align": "center", "baseline": "middle"},
   "encoding": {"x": {"datum": 496.1}, "y": {"datum": 49.7}, "text": {"value": "(K, α , β) = \u00a0(20, 0.1, 0.9)"}}},
  {"data": {"values": [{}]}, "mark": {"type": "text", "fontSize": 21, "color": "#000000", "align": "left", "baseline": "middle"},
   "encoding": {"x": {"datum": -181.4}, "y": {"datum": 49.8}, "text": {"value": "c."}}}
 ]
}
]
}
